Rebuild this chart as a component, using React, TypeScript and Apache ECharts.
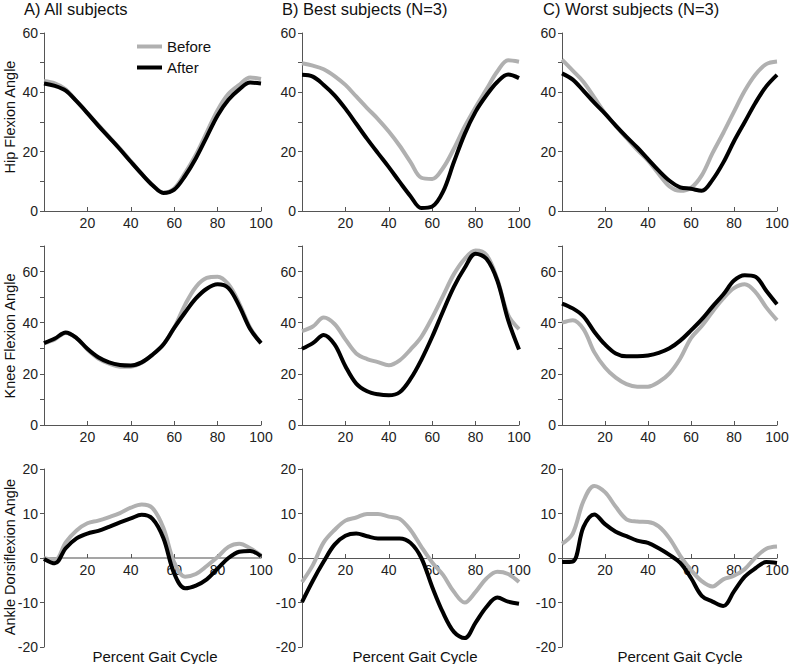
import React, { useEffect, useRef } from "react";
import * as echarts from "echarts";

// Percent of gait cycle at which each value was read
const gaitPct = [0, 5, 10, 15, 20, 25, 30, 35, 40, 45, 50, 55, 60, 65, 70, 75, 80, 85, 90, 95, 100];

// Hip flexion angle
const hipAllBefore = [43.8, 43, 41, 37, 33, 29, 25, 21, 16.8, 12.5, 8.8, 6.2, 7.6, 12.8, 19, 26.5, 34, 39.5, 42.5, 45, 44.5];
const hipAllAfter = [43, 42.2, 40.6, 37, 33, 28.8, 24.8, 20.8, 16.6, 12.5, 8.7, 6.1, 7.2, 11.8, 17.8, 25, 32.2, 37.5, 41, 43.3, 43];
const hipBestBefore = [49.8, 49, 47.8, 45.5, 42.5, 38.6, 34.7, 31, 26.8, 22, 16.5, 11.2, 10.8, 14.5, 21, 28.5, 35, 41, 47, 50.8, 50.3];
const hipBestAfter = [45.9, 45.3, 42.5, 39, 34.5, 29.4, 24.3, 19.5, 14.8, 9.8, 5, 1, 1.5, 6.5, 16.5, 26, 33.5, 39, 43.5, 46, 44.8];
const hipWorstBefore = [51, 47.3, 43.5, 38.3, 33, 28.7, 24.6, 20.6, 17, 12.5, 8.3, 6.8, 7.8, 12, 19.5, 26.3, 33.5, 40.5, 46, 49.5, 50.4];
const hipWorstAfter = [46.4, 44.3, 40.5, 36.5, 32.8, 28.8, 25, 21.4, 17.5, 13.6, 10.2, 8, 7.5, 6.8, 10.5, 16.3, 23.5, 30, 36.5, 42, 45.9];

// Knee flexion angle
const kneeAllBefore = [32, 33.5, 36, 34, 29.5, 26, 24, 22.8, 22.8, 24.3, 27.5, 31.5, 38, 47, 54, 57.5, 58, 55, 47.5, 38, 32];
const kneeAllAfter = [32, 33.8, 36.2, 34, 29.8, 26.5, 24.5, 23.5, 23.3, 24.5, 27.5, 31.5, 38, 44, 49.5, 53.3, 55, 53.5, 46.5, 37.5, 32];
const kneeBestBefore = [36.7, 38.5, 42, 39.5, 33.5, 28, 25.8, 24.6, 23.4, 25.3, 29.5, 34.5, 42, 50.5, 59, 65, 68.2, 66.5, 57, 43, 37.5];
const kneeBestAfter = [29.8, 32, 35.2, 31.5, 23, 16.2, 13.2, 12, 11.6, 12.8, 18, 25.5, 34.5, 44.5, 54, 61.5, 67, 65, 56.5, 41, 29.5];
const kneeWorstBefore = [40, 41, 37.5, 28.5, 22.5, 18.5, 16, 15, 15, 16.8, 20.2, 26, 34, 38.7, 44.3, 49.5, 53.5, 55, 52, 46, 41];
const kneeWorstAfter = [47.5, 45.6, 42.5, 36.5, 31.5, 28, 26.9, 26.9, 27.2, 28.2, 30, 33, 37, 41.3, 46.3, 51, 56.5, 58.6, 58, 52.5, 47.2];

// Ankle dorsiflexion angle
const ankleAllBefore = [0, -0.5, 3.5, 6.2, 7.8, 8.4, 9.2, 10.1, 11.3, 12, 11.2, 6.8, -1, -4.2, -3.6, -1.8, 0.2, 2.5, 3.2, 2.2, 0.6];
const ankleAllAfter = [-0.2, -1.2, 2.2, 4.4, 5.5, 6.1, 7, 8, 8.9, 9.7, 8.8, 4.5, -3.5, -6.8, -6.2, -4.8, -2.4, 0, 1.4, 1.6, 0.4];
const ankleBestBefore = [-5.4, -1.6, 3.5, 6.3, 8.4, 9.1, 9.9, 9.9, 9.3, 8.8, 6.3, 2.5, -1, -3.8, -7.6, -10, -7.6, -4.6, -3.1, -3.6, -5.4];
const ankleBestAfter = [-9.9, -5.1, -0.8, 3, 5, 5.5, 4.9, 4.4, 4.4, 4.4, 3.4, 0, -6.5, -12.3, -16.6, -18, -14.5, -11, -8.9, -9.8, -10.3];
const ankleWorstBefore = [3.2, 5.5, 12.8, 16.2, 14.8, 11.5, 8.7, 8.2, 8.1, 7.1, 4.4, 0.5, -2.7, -5.2, -6.4, -4.8, -4, -2.5, 0.1, 2.1, 2.6];
const ankleWorstAfter = [-0.9, -0.8, 7, 9.8, 7.6, 5.9, 4.9, 3.9, 3.4, 2.2, 0.7, -1.1, -4.5, -8.5, -9.8, -10.8, -7.5, -4.2, -2.3, -0.9, -1.1];

const panelTitles = ["A) All subjects", "B) Best subjects (N=3)", "C) Worst subjects (N=3)"];
const rowNames = ["Hip Flexion Angle", "Knee Flexion Angle", "Ankle Dorsiflexion Angle"];
const xTitle = "Percent Gait Cycle";
const seriesNames = ["Before", "After"];

const panelData = [
  [[hipAllBefore, hipAllAfter], [hipBestBefore, hipBestAfter], [hipWorstBefore, hipWorstAfter]],
  [[kneeAllBefore, kneeAllAfter], [kneeBestBefore, kneeBestAfter], [kneeWorstBefore, kneeWorstAfter]],
  [[ankleAllBefore, ankleAllAfter], [ankleBestBefore, ankleBestAfter], [ankleWorstBefore, ankleWorstAfter]],
];

const yRanges = [
  { min: 0, max: 60, label: 20 },
  { min: 0, max: 70, label: 20 },
  { min: -20, max: 20, label: 10 },
];

const FONT = "'Liberation Sans', Arial, sans-serif";
const colLeft = [44, 302, 562];
const colWidth = [217, 217, 215];
const rowTop = [33, 246, 469];
const rowHeight = [178, 179, 178];
const colTitleX = [24, 282, 543];
const rowNameY = [117, 336, 557];
const xTitleX = [155, 415, 680];
const lineColors = ["#b0b0b0", "#000000"];

export default function App() {
  const ref = useRef<HTMLDivElement>(null);
  useEffect(() => {
    document.body.style.margin = "0";
    if (!ref.current) return;
    const chart = echarts.init(ref.current, undefined, { renderer: "svg" });
    const grids: any[] = [];
    const xAxes: any[] = [];
    const yAxes: any[] = [];
    const series: any[] = [];
    for (let r = 0; r < 3; r++) {
      for (let c = 0; c < 3; c++) {
        const idx = r * 3 + c;
        const yr = yRanges[r];
        grids.push({ left: colLeft[c], top: rowTop[r], width: colWidth[c], height: rowHeight[r] });
        // place the x axis where y = 0 inside the grid
        const zeroOffset = yr.min < 0 ? -(rowHeight[r] * (0 - yr.min)) / (yr.max - yr.min) : 0;
        xAxes.push({
          type: "value",
          gridIndex: idx,
          min: 0,
          max: 100,
          interval: 20,
          position: "bottom",
          offset: zeroOffset,
          axisLine: { onZero: false, lineStyle: { color: r === 2 && c === 0 ? "#888" : "#555", width: r === 2 && c === 0 ? 1.5 : 1 } },
          axisTick: { show: true, inside: true, length: 4, lineStyle: { color: "#555" } },
          axisLabel: {
            color: "#222",
            fontSize: 14,
            fontFamily: FONT,
            margin: 5,
            formatter: (v: number) => (v === 0 ? "" : String(v)),
          },
          splitLine: { show: false },
        });
        yAxes.push({
          type: "value",
          gridIndex: idx,
          min: yr.min,
          max: yr.max,
          interval: 10,
          axisLine: { show: true, onZero: false, lineStyle: { color: "#555", width: 1 } },
          axisTick: { show: true, inside: false, length: 4, lineStyle: { color: "#555" } },
          axisLabel: {
            color: "#222",
            fontSize: 14,
            fontFamily: FONT,
            margin: 6,
            formatter: (v: number) => (v % yr.label === 0 ? String(v) : ""),
          },
          splitLine: { show: false },
        });
        for (let s = 0; s < 2; s++) {
          const vals = panelData[r][c][s];
          series.push({
            name: seriesNames[s],
            type: "line",
            xAxisIndex: idx,
            yAxisIndex: idx,
            data: gaitPct.map((x, i) => [x, vals[i]]),
            showSymbol: false,
            smooth: 0.35,
            lineStyle: { color: lineColors[s], width: 4 },
            itemStyle: { color: lineColors[s] },
            z: 2 + s,
          });
        }
      }
    }
    const titles = panelTitles.map((t, c) => ({
      text: t,
      left: colTitleX[c],
      top: 0,
      padding: 0,
      textStyle: { fontSize: 16.5, fontWeight: "normal", fontFamily: FONT, color: "#111" },
    }));
    const graphics: any[] = [];
    for (let c = 0; c < 3; c++) {
      graphics.push({
        type: "text",
        x: xTitleX[c],
        y: 656,
        style: { text: xTitle, fontSize: 15, fontFamily: FONT, fill: "#111", align: "center", verticalAlign: "middle" },
      });
    }
    for (let r = 0; r < 3; r++) {
      graphics.push({
        type: "text",
        x: 10,
        y: rowNameY[r],
        rotation: Math.PI / 2,
        style: { text: rowNames[r], fontSize: 14.5, fontFamily: FONT, fill: "#111", align: "center", verticalAlign: "middle" },
      });
    }
    chart.setOption({
      animation: false,
      title: titles,
      grid: grids,
      xAxis: xAxes,
      yAxis: yAxes,
      series,
      legend: {
        data: seriesNames,
        orient: "vertical",
        left: 137,
        top: 39,
        padding: 0,
        icon: "rect",
        itemWidth: 25,
        itemHeight: 4,
        itemGap: 6,
        textStyle: { fontSize: 15, fontFamily: FONT, color: "#111" },
      },
      graphic: graphics,
    });
    return () => chart.dispose();
  }, []);
  return <div ref={ref} style={{ width: 800, height: 664 }} />;
}
